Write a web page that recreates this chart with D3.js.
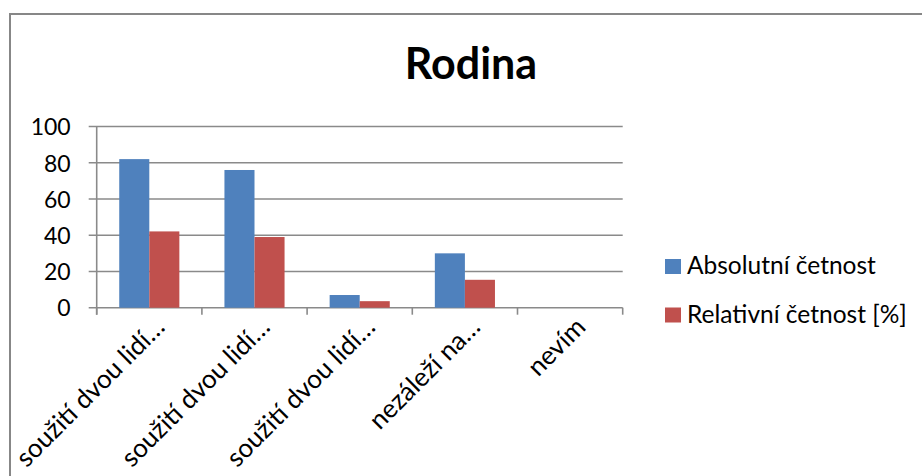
<!DOCTYPE html>
<html lang="cs">
<head>
    <meta charset="UTF-8">
    <title>Rodina</title>
    <style>
        body { margin: 0; background: #fff; }
        svg text { font-family: Lato, "Open Sans", sans-serif; fill: #000; }
    </style>
</head>
<body>
<svg id="svgId"></svg>
<script src="https://cdnjs.cloudflare.com/ajax/libs/d3/7.8.5/d3.min.js"></script>
<script>

    // Data
    const categories = ['soužití dvou lidí…', 'soužití dvou lidí…', 'soužití dvou lidí…', 'nezáleží na…', 'nevím'];
    const seriesNames = ['Absolutní četnost', 'Relativní četnost [%]'];
    const absolutni = [82, 76, 7, 30, 0];
    const relativni = [42.1, 39.0, 3.6, 15.4, 0];
    const yTicks = [0, 20, 40, 60, 80, 100];
    const colors = ['#4F81BD', '#C0504D'];

    const svgWidth = 922, svgHeight = 476;
    const margin = {top: 126.5, left: 96.7, right: 299.3, bottom: 168.3};
    const width = svgWidth - margin.left - margin.right;
    const height = svgHeight - margin.top - margin.bottom;

    const root = d3.select('#svgId')
        .attr('width', svgWidth)
        .attr('height', svgHeight);

    root.append('rect')
        .attr('width', svgWidth).attr('height', svgHeight)
        .attr('fill', '#fff');

    // outer chart border (runs off the right and bottom edges)
    root.append('rect')
        .attr('x', 10).attr('y', 14)
        .attr('width', svgWidth).attr('height', svgHeight)
        .attr('fill', 'none')
        .attr('stroke', '#878787')
        .attr('stroke-width', 2);

    root.append('text')
        .attr('x', 471)
        .attr('y', 79)
        .attr('text-anchor', 'middle')
        .style('font-size', '43px')
        .style('font-weight', 'bold')
        .text('Rodina');

    const svg = root.append('g')
        .attr('transform', `translate(${margin.left},${margin.top})`);

    const xScale = d3.scaleBand().domain(d3.range(categories.length)).range([0, width]);
    const xInner = d3.scaleBand().domain(d3.range(seriesNames.length))
        .range([0, xScale.bandwidth()]).paddingInner(0).paddingOuter(0.75);
    const yScale = d3.scaleLinear().domain([0, 100]).range([height, 0]);

    // y axis labels
    const yAxis = svg.append('g')
        .call(d3.axisLeft(yScale).tickValues(yTicks).tickSize(0).tickFormat(d => d));
    yAxis.select('.domain').remove();
    yAxis.selectAll('text')
        .attr('x', -26)
        .attr('dy', '0.36em')
        .style('font-size', '23px');

    // gridlines (with the little outward tick on the left)
    svg.append('g').selectAll('line')
        .data(yTicks).enter()
        .append('line')
        .attr('x1', -8).attr('x2', width)
        .attr('y1', d => yScale(d)).attr('y2', d => yScale(d))
        .attr('stroke', '#8a8a8a')
        .attr('stroke-width', 1.6);

    svg.append('line')
        .attr('x1', 0).attr('x2', 0)
        .attr('y1', 0).attr('y2', height + 7)
        .attr('stroke', '#8a8a8a')
        .attr('stroke-width', 1.6);

    // category tick marks at band edges
    const edges = d3.range(categories.length + 1).map(i => i * xScale.step());
    svg.append('g').selectAll('line')
        .data(edges).enter()
        .append('line')
        .attr('x1', d => d).attr('x2', d => d)
        .attr('y1', height).attr('y2', height + 7)
        .attr('stroke', '#8a8a8a')
        .attr('stroke-width', 1.6);

    // bars
    const values = [absolutni, relativni];
    const groups = svg.append('g').selectAll('g')
        .data(categories).enter()
        .append('g')
        .attr('transform', (d, i) => `translate(${xScale(i)},0)`);

    groups.selectAll('rect')
        .data((d, i) => values.map((v, s) => ({s: s, v: v[i]})))
        .enter()
        .append('rect')
        .attr('x', d => xInner(d.s))
        .attr('width', xInner.bandwidth())
        .attr('y', d => yScale(d.v))
        .attr('height', d => height - yScale(d.v))
        .attr('fill', d => colors[d.s]);

    // rotated category labels
    svg.append('g').selectAll('text')
        .data(categories).enter()
        .append('text')
        .attr('text-anchor', 'end')
        .attr('transform', (d, i) => `translate(${xScale(i) + xScale.bandwidth() / 2 + 17},${height + 21}) rotate(-45)`)
        .style('font-size', '26px')
        .text(d => d);

    // legend
    const legend = root.append('g').selectAll('g')
        .data(seriesNames).enter()
        .append('g')
        .attr('transform', (d, i) => `translate(665,${259 + i * 48.5})`);

    legend.append('rect')
        .attr('width', 16).attr('height', 15)
        .attr('fill', (d, i) => colors[i]);

    legend.append('text')
        .attr('x', 22)
        .attr('y', 15)
        .style('font-size', '24.5px')
        .text(d => d);

</script>
</body>
</html>
